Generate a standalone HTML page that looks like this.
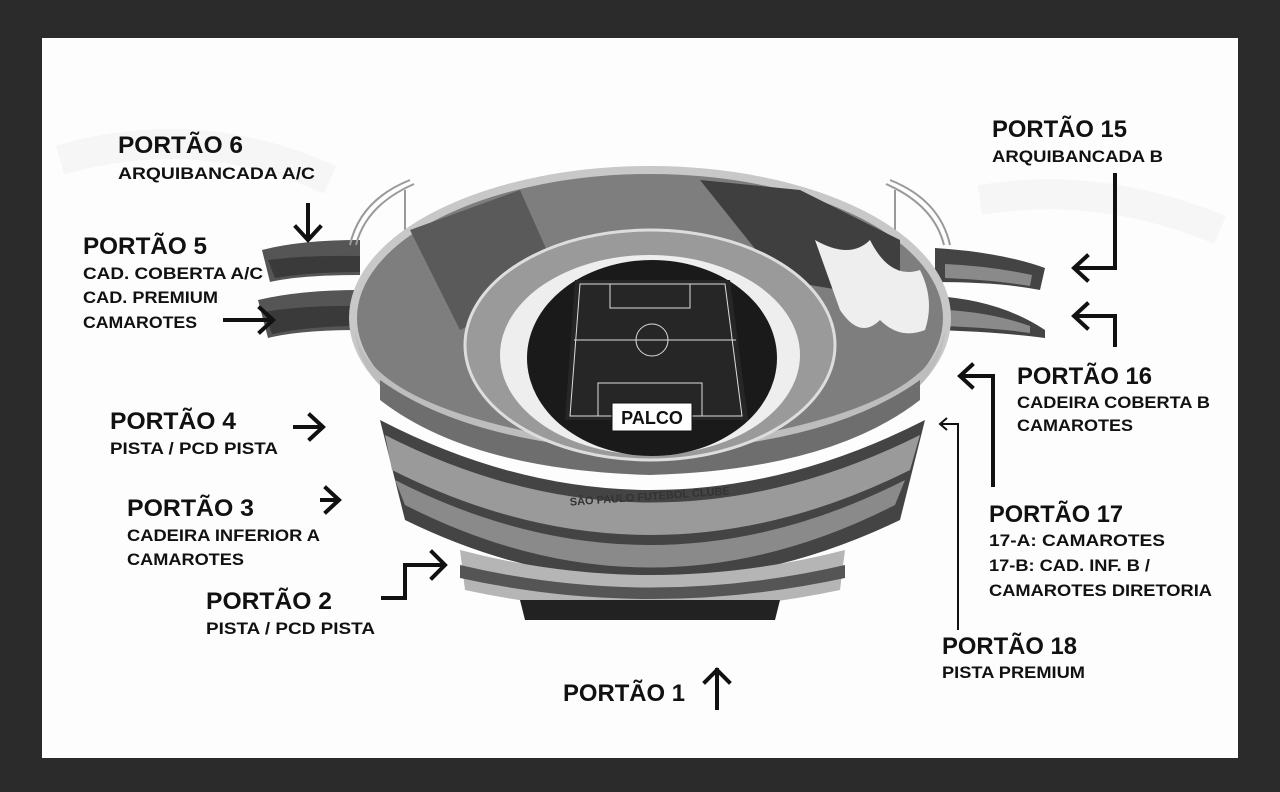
<!DOCTYPE html>
<html><head><meta charset="utf-8"><style>
html,body{margin:0;padding:0;background:#2b2b2b;width:1280px;height:792px;overflow:hidden}
svg{display:block}
text{font-family:"Liberation Sans",sans-serif;font-weight:bold;fill:#111}
.t{font-size:24px}
.s{font-size:17px}
</style></head><body>
<svg width="1280" height="792" viewBox="0 0 1280 792">
<rect x="0" y="0" width="1280" height="792" fill="#2b2b2b"/>
<rect x="42" y="38" width="1196" height="720" fill="#fdfdfd"/>
<g fill="none" stroke="#f6f6f6" stroke-width="30"><path d="M60 160 Q200 120 330 180"/><path d="M980 200 Q1100 180 1220 230"/></g>

<!-- side wings -->
<g>
<path d="M262 250 Q300 240 360 240 L360 275 Q300 275 270 282 Z" fill="#555"/>
<path d="M268 260 Q305 255 360 256 L360 272 Q310 272 275 278 Z" fill="#3a3a3a"/>
<path d="M258 300 Q300 290 360 290 L360 330 Q300 330 268 338 Z" fill="#555"/>
<path d="M264 312 Q305 305 360 306 L360 326 Q310 326 272 334 Z" fill="#3a3a3a"/>
<path d="M1045 268 Q1000 252 935 248 L935 282 Q1000 282 1040 290 Z" fill="#444"/>
<path d="M1032 275 Q990 266 945 264 L945 278 Q995 280 1030 286 Z" fill="#8a8a8a"/>
<path d="M1045 330 Q1000 300 935 296 L935 330 Q1000 332 1045 338 Z" fill="#444"/>
<path d="M1030 326 Q990 312 945 310 L945 326 Q995 328 1030 333 Z" fill="#8a8a8a"/>
</g>
<!-- roof arcs -->
<g fill="none" stroke="#999" stroke-width="2">
<path d="M350 245 Q360 200 410 180"/><path d="M356 245 Q366 205 414 184"/>
<path d="M950 245 Q940 200 890 180"/><path d="M944 245 Q934 205 886 184"/>
<line x1="405" y1="190" x2="405" y2="250"/><line x1="895" y1="190" x2="895" y2="250"/>
</g>

<!-- lower tiers -->
<path d="M380 420 Q650 560 925 420 L900 520 Q650 640 405 520 Z" fill="#444"/>
<path d="M385 435 Q650 570 920 435 L910 470 Q650 600 392 470 Z" fill="#9a9a9a"/>
<path d="M395 480 Q650 610 905 480 L895 505 Q650 630 405 505 Z" fill="#8a8a8a"/>
<path d="M460 550 Q650 600 845 550 L840 590 Q650 630 465 590 Z" fill="#b5b5b5"/>
<path d="M460 565 Q650 610 845 565 L845 578 Q650 620 460 578 Z" fill="#555"/>
<path d="M520 600 L780 600 L775 620 L525 620 Z" fill="#222"/>

<!-- main ring -->
<ellipse cx="650" cy="318" rx="297" ry="148" fill="#7e7e7e" stroke="#c8c8c8" stroke-width="8"/>
<path d="M355 330 Q360 440 650 470 Q940 440 945 330 Q930 420 650 450 Q370 420 355 330 Z" fill="#bdbdbd"/>
<path d="M380 380 Q470 445 650 452 Q830 445 920 380 L920 400 Q830 470 650 475 Q470 470 380 400 Z" fill="#6e6e6e"/>
<path d="M700 180 L800 190 L900 240 L900 300 L780 280 Z" fill="#3f3f3f"/>
<path d="M410 230 L520 190 L560 280 L460 330 Z" fill="#5a5a5a"/>
<path d="M815 240 Q850 260 870 240 Q890 280 920 270 Q935 300 925 330 Q900 340 880 320 Q860 340 840 310 Z" fill="#eee"/>
<ellipse cx="650" cy="345" rx="185" ry="115" fill="#9a9a9a" stroke="#ddd" stroke-width="3"/>
<ellipse cx="650" cy="355" rx="150" ry="100" fill="#eee"/>
<ellipse cx="652" cy="358" rx="125" ry="98" fill="#1a1a1a"/>
<!-- pitch -->
<path d="M575 280 L730 280 L748 420 L565 420 Z" fill="#262626"/>
<g fill="none" stroke="#ddd" stroke-width="1">
<path d="M580 284 L725 284 L742 416 L570 416 Z"/>
<line x1="574" y1="340" x2="736" y2="340"/>
<circle cx="652" cy="340" r="16"/>
<rect x="610" y="284" width="80" height="24"/>
<rect x="598" y="383" width="104" height="33"/>
</g>
<rect x="612" y="403" width="80" height="28" fill="#fff" stroke="#111" stroke-width="1"/>
<text x="652" y="424" class="s" text-anchor="middle" style="font-size:18px">PALCO</text>
<text x="650" y="500" text-anchor="middle" style="font-size:11px;fill:#333" transform="rotate(-4 650 500)">SÃO PAULO FUTEBOL CLUBE</text>

<!-- arrows -->
<g fill="none" stroke="#111" stroke-width="4" stroke-linecap="square">
<line x1="308" y1="205" x2="308" y2="238"/><path d="M296 227 L308 240 L320 227"/>
<line x1="225" y1="320" x2="272" y2="320"/><path d="M260 308 L273 320 L260 332"/>
<line x1="295" y1="427" x2="322" y2="427"/><path d="M310 415 L323 427 L310 439"/>
<line x1="322" y1="500" x2="338" y2="500"/><path d="M326 488 L339 500 L326 512"/>
<path d="M383 598 L405 598 L405 565 L443 565"/><path d="M432 552 L445 565 L432 578"/>
<line x1="717" y1="708" x2="717" y2="670"/><path d="M705 682 L717 670 L729 682"/>
<path d="M1115 175 L1115 268 L1075 268"/><path d="M1087 256 L1074 268 L1087 280"/>
<path d="M1115 345 L1115 316 L1075 316"/><path d="M1087 304 L1074 316 L1087 328"/>
<path d="M993 485 L993 376 L961 376"/><path d="M972 365 L960 376 L972 387"/>
</g>
<g fill="none" stroke="#111" stroke-width="2">
<path d="M958 630 L958 424 L940 424"/><path d="M947 418 L940 424 L947 430"/>
</g>

<!-- labels -->
<g lengthAdjust="spacingAndGlyphs">
<text x="118" y="153" class="t" textLength="125" lengthAdjust="spacingAndGlyphs">PORTÃO 6</text>
<text x="118" y="179" class="s" textLength="197" lengthAdjust="spacingAndGlyphs">ARQUIBANCADA A/C</text>
<text x="83" y="254" class="t" textLength="124" lengthAdjust="spacingAndGlyphs">PORTÃO 5</text>
<text x="83" y="279" class="s" textLength="180" lengthAdjust="spacingAndGlyphs">CAD. COBERTA A/C</text>
<text x="83" y="303" class="s" textLength="135" lengthAdjust="spacingAndGlyphs">CAD. PREMIUM</text>
<text x="83" y="328" class="s" textLength="114" lengthAdjust="spacingAndGlyphs">CAMAROTES</text>
<text x="110" y="429" class="t" textLength="126" lengthAdjust="spacingAndGlyphs">PORTÃO 4</text>
<text x="110" y="454" class="s" textLength="168" lengthAdjust="spacingAndGlyphs">PISTA / PCD PISTA</text>
<text x="127" y="516" class="t" textLength="127" lengthAdjust="spacingAndGlyphs">PORTÃO 3</text>
<text x="127" y="541" class="s" textLength="193" lengthAdjust="spacingAndGlyphs">CADEIRA INFERIOR A</text>
<text x="127" y="565" class="s" textLength="117" lengthAdjust="spacingAndGlyphs">CAMAROTES</text>
<text x="206" y="609" class="t" textLength="126" lengthAdjust="spacingAndGlyphs">PORTÃO 2</text>
<text x="206" y="634" class="s" textLength="169" lengthAdjust="spacingAndGlyphs">PISTA / PCD PISTA</text>
<text x="563" y="701" class="t" textLength="122" lengthAdjust="spacingAndGlyphs">PORTÃO 1</text>
<text x="992" y="137" class="t" textLength="135" lengthAdjust="spacingAndGlyphs">PORTÃO 15</text>
<text x="992" y="162" class="s" textLength="171" lengthAdjust="spacingAndGlyphs">ARQUIBANCADA B</text>
<text x="1017" y="384" class="t" textLength="135" lengthAdjust="spacingAndGlyphs">PORTÃO 16</text>
<text x="1017" y="408" class="s" textLength="193" lengthAdjust="spacingAndGlyphs">CADEIRA COBERTA B</text>
<text x="1017" y="431" class="s" textLength="116" lengthAdjust="spacingAndGlyphs">CAMAROTES</text>
<text x="989" y="522" class="t" textLength="134" lengthAdjust="spacingAndGlyphs">PORTÃO 17</text>
<text x="989" y="546" class="s" textLength="176" lengthAdjust="spacingAndGlyphs">17-A: CAMAROTES</text>
<text x="989" y="571" class="s" textLength="161" lengthAdjust="spacingAndGlyphs">17-B: CAD. INF. B /</text>
<text x="989" y="596" class="s" textLength="223" lengthAdjust="spacingAndGlyphs">CAMAROTES DIRETORIA</text>
<text x="942" y="654" class="t" textLength="135" lengthAdjust="spacingAndGlyphs">PORTÃO 18</text>
<text x="942" y="678" class="s" textLength="143" lengthAdjust="spacingAndGlyphs">PISTA PREMIUM</text>
</g>
</svg>
</body></html>
